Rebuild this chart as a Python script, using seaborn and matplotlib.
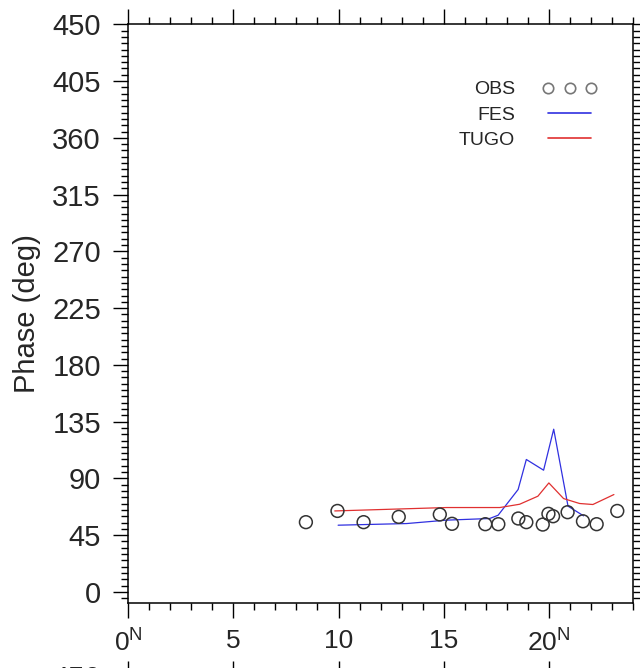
import matplotlib
matplotlib.use("Agg")
import matplotlib.pyplot as plt
import seaborn as sns
import pandas as pd
from matplotlib.lines import Line2D
from matplotlib.legend_handler import HandlerLine2D
from matplotlib.ticker import MultipleLocator

# observations (latitude, phase)
obs_lat = [8.45, 9.95, 11.19, 12.86, 14.81, 15.39, 16.97, 17.59, 18.54, 18.92,
           19.70, 19.97, 20.19, 20.88, 21.61, 22.26, 23.24]
obs_phase = [55.3, 64.2, 55.3, 59.5, 61.4, 54.0, 53.7, 53.7, 58.2, 55.3,
             53.4, 61.9, 60.0, 63.2, 56.0, 53.7, 64.2]

# FES model
fes_lat = [9.98, 13.23, 15.13, 17.18, 17.58, 18.53, 18.92, 19.74, 20.22, 20.90, 21.64]
fes_phase = [52.9, 54.2, 56.9, 58.2, 60.8, 81.2, 105.0, 96.5, 129.0, 68.0, 60.3]

# TUGO model
tugo_lat = [9.82, 15.13, 16.87, 17.66, 18.60, 19.47, 19.99, 20.69, 21.45, 22.08, 23.08]
tugo_phase = [64.2, 66.9, 66.9, 66.9, 69.5, 75.9, 86.4, 74.0, 70.1, 69.3, 77.2]

x_ticks = [0, 5, 10, 15, 20]
x_ticklabels = ["$0^{N}$", "5", "10", "15", "$20^{N}$"]
y_ticks = [0, 45, 90, 135, 180, 225, 270, 315, 360, 405, 450]

sns.set_style("ticks")
plt.rcParams["font.family"] = ["Liberation Sans", "DejaVu Sans"]
plt.rcParams["mathtext.default"] = "regular"

fig = plt.figure(figsize=(6.4, 6.68), dpi=100)
ax = fig.add_axes([0.2, 0.0969, 0.7895, 0.8667])
# top edge of the next panel, mostly below the figure
ax2 = fig.add_axes([0.2, -0.9, 0.7895, 0.888])


def style_axes(a):
    a.set_xlim(0, 24)
    a.set_ylim(-9, 450)
    a.set_xticks(x_ticks)
    a.set_xticklabels(x_ticklabels)
    a.set_yticks(y_ticks)
    a.xaxis.set_minor_locator(MultipleLocator(1))
    a.yaxis.set_minor_locator(MultipleLocator(5))
    a.tick_params(which="both", direction="out", top=True, right=True,
                  width=1.0, color="black")
    a.tick_params(which="major", length=10.5)
    a.tick_params(which="minor", length=5)
    a.tick_params(axis="y", which="major", pad=9, labelsize=21)
    a.tick_params(axis="x", which="major", pad=8, labelsize=19)
    for s in a.spines.values():
        s.set_linewidth(1.1)
        s.set_color("black")
    a.set_xlabel("")
    a.set_ylabel("")


obs = pd.DataFrame({"lat": obs_lat, "phase": obs_phase})
fes = pd.DataFrame({"lat": fes_lat, "phase": fes_phase})
tugo = pd.DataFrame({"lat": tugo_lat, "phase": tugo_phase})

sns.lineplot(data=fes, x="lat", y="phase", ax=ax, color="#3030e0", lw=0.9, sort=False)
sns.lineplot(data=tugo, x="lat", y="phase", ax=ax, color="#e03030", lw=0.9, sort=False)
sns.scatterplot(data=obs, x="lat", y="phase", ax=ax, marker="o", s=85,
                facecolor="none", edgecolor="#333333", linewidth=1.1, zorder=3)

style_axes(ax)
style_axes(ax2)
ax2.tick_params(labelbottom=False)
ax2.set_yticklabels([""] * (len(y_ticks) - 1) + [str(y_ticks[-1])])

ax.set_ylabel("Phase (deg)", fontsize=21)
ax.yaxis.set_label_coords(-0.172, 0.5)

handles = [
    Line2D([], [], ls="none", marker="o", mfc="none", mec="#777777", mew=1.2, ms=7.5),
    Line2D([], [], color="#3030e0", lw=1.2),
    Line2D([], [], color="#e03030", lw=1.2),
]
leg = ax.legend(handles, ["OBS", "FES", "TUGO"], loc="center",
                bbox_to_anchor=(0.786, 0.8435), frameon=False, markerfirst=False,
                prop={"size": 14},
                handlelength=2.2, handletextpad=1.7, labelspacing=0.4,
                handler_map={handles[0]: HandlerLine2D(numpoints=3, marker_pad=0)})

fig.savefig("out.png", dpi=100)
